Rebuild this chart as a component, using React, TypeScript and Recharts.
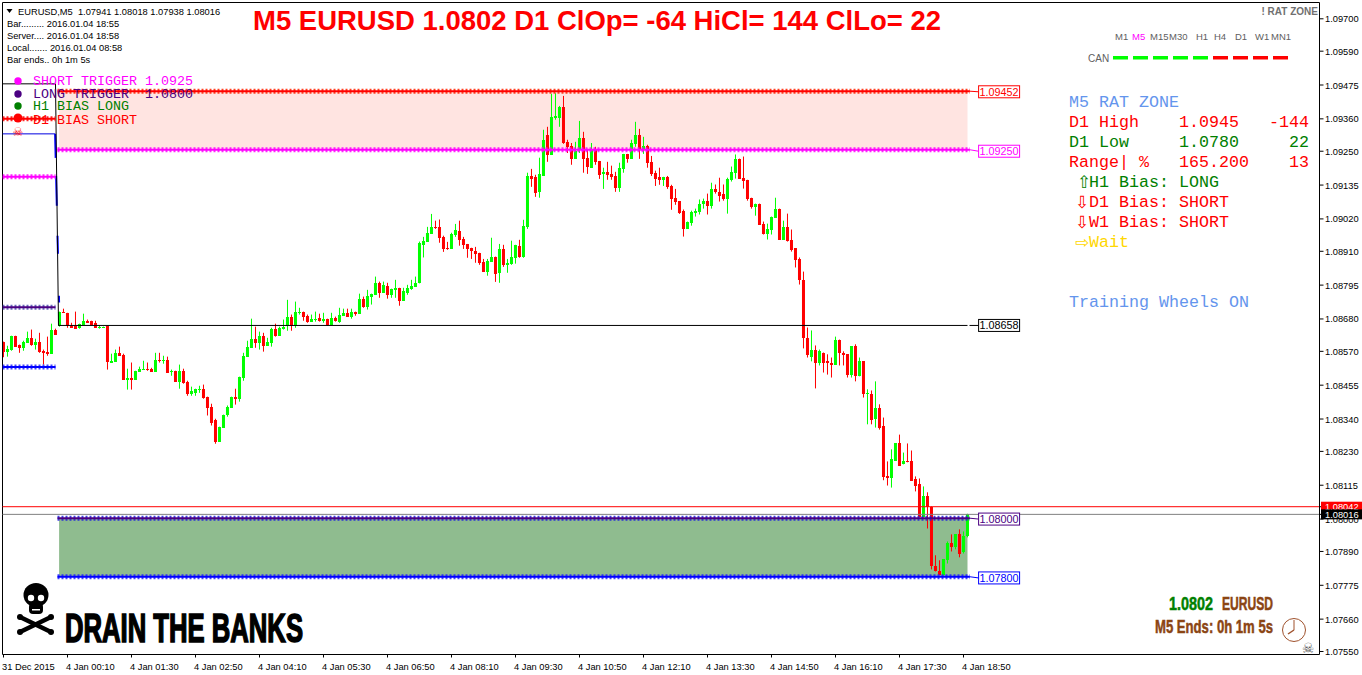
import React from "react";
import { Bar, ComposedChart, Line, ReferenceArea, ReferenceDot, ReferenceLine, XAxis, YAxis } from "recharts";

// OHLC of the EURUSD M5 bars, in points (1/100000)
const opens = [
108603,108569,108576,108623,108593,108582,108599,108616,108593,108603,
108572,108569,108562,108644,108657,108705,108701,108657,108657,108650,
108661,108674,108674,108667,108650,108650,108657,108532,108535,108565,
108559,108474,108481,108474,108501,108508,108511,108511,108501,108542,
108538,108542,108501,108504,108467,108504,108467,108426,108429,108440,
108443,108416,108382,108335,108263,108311,108352,108379,108416,108409,
108481,108552,108582,108613,108599,108623,108589,108599,108647,108623,
108647,108657,108688,108657,108701,108705,108691,108671,108678,108684,
108674,108681,108661,108684,108671,108691,108701,108688,108705,108698,
108749,108722,108756,108762,108803,108769,108793,108762,108779,108786,
108742,108769,108783,108790,108801,108932,108942,108969,108993,108993,
108959,108922,108918,108966,108980,108952,108935,108922,108912,108905,
108874,108840,108874,108892,108837,108918,108864,108868,108888,108929,
108892,108993,109166,109163,109112,109166,109306,109238,109363,109363,
109401,109282,109268,109224,109255,109295,109228,109194,109258,109217,
109173,109180,109173,109166,109126,109190,109241,109224,109275,109306,
109258,109268,109214,109177,109163,109153,109163,109132,109092,109081,
109048,108987,109007,109041,109045,109069,109082,109065,109120,109113,
109103,109086,109153,109177,109225,109160,109153,109092,109059,109072,
109004,108970,108984,109024,109055,108950,108994,108950,108920,108885,
108814,108617,108552,108576,108529,108566,108536,108532,108525,108610,
108566,108560,108488,108587,108485,108536,108424,108424,108339,108376,
108315,108145,108138,108199,108257,108186,108199,108196,108135,108118,
108006,108077,108040,107842,107825,107809,107860,107917,107904,107948,
107887,107941];
const highs = [
108603,108589,108623,108623,108593,108606,108637,108644,108613,108633,
108576,108620,108664,108647,108705,108715,108701,108667,108705,108664,
108698,108678,108674,108674,108657,108654,108657,108562,108576,108586,
108562,108511,108532,108504,108518,108538,108532,108514,108565,108565,
108555,108552,108508,108504,108525,108511,108470,108450,108443,108453,
108457,108416,108392,108341,108314,108355,108386,108416,108443,108484,
108565,108606,108681,108654,108637,108633,108616,108650,108664,108654,
108678,108745,108695,108739,108718,108705,108695,108695,108705,108698,
108701,108681,108701,108688,108718,108715,108715,108715,108705,108766,
108756,108779,108766,108824,108807,108807,108803,108783,108813,108786,
108786,108796,108813,108824,108943,108959,108993,109037,109014,109018,
108963,108942,108973,109003,109014,108959,108935,108922,108925,108905,
108884,108884,108956,108892,108935,108932,108884,108946,108932,108949,
109017,109177,109190,109170,109228,109323,109333,109445,109447,109404,
109438,109289,109278,109282,109353,109316,109258,109278,109265,109217,
109194,109214,109201,109180,109211,109241,109241,109289,109350,109326,
109299,109272,109234,109184,109194,109163,109166,109136,109122,109081,
109052,109011,109048,109055,109086,109089,109106,109143,109137,109160,
109137,109160,109198,109239,109225,109232,109153,109092,109072,109072,
109011,109004,109028,109092,109055,109014,109038,108984,108920,108889,
108841,108651,108641,108590,108576,108566,108560,108549,108620,108610,
108570,108560,108587,108594,108549,108536,108441,108437,108468,108390,
108345,108196,108237,108257,108287,108226,108257,108233,108145,108138,
108111,108091,108043,107877,107860,107863,107924,107948,107948,107965,
107958,108018];
const lows = [
108550,108552,108572,108586,108565,108572,108599,108589,108576,108565,
108525,108555,108562,108627,108654,108701,108650,108650,108647,108647,
108661,108667,108661,108650,108647,108650,108508,108532,108535,108555,
108474,108440,108440,108474,108501,108508,108504,108501,108501,108532,
108528,108498,108487,108467,108443,108460,108419,108419,108419,108429,
108409,108352,108318,108256,108263,108311,108348,108379,108389,108399,
108470,108552,108582,108582,108576,108569,108589,108586,108620,108623,
108644,108640,108640,108650,108695,108674,108667,108671,108671,108671,
108667,108657,108661,108671,108667,108691,108688,108681,108691,108698,
108718,108712,108729,108762,108752,108769,108749,108752,108752,108725,
108742,108762,108779,108790,108801,108889,108942,108969,108986,108939,
108908,108915,108918,108959,108929,108918,108888,108884,108871,108864,
108840,108827,108874,108806,108803,108857,108837,108864,108868,108888,
108888,108986,109129,109095,109092,109166,109214,109238,109357,109333,
109275,109244,109204,109224,109244,109177,109173,109194,109204,109156,
109122,109153,109153,109112,109112,109177,109211,109224,109265,109224,
109241,109194,109166,109132,109136,109132,109122,109051,109068,109037,
108960,108987,108997,109028,109035,109055,109035,109055,109106,109079,
109082,109038,109147,109157,109157,109123,109082,109055,109031,109001,
108967,108950,108967,109024,108950,108950,108943,108909,108855,108797,
108580,108549,108536,108444,108522,108498,108491,108481,108525,108522,
108522,108481,108481,108468,108485,108413,108322,108322,108311,108304,
108132,108114,108107,108199,108182,108186,108193,108131,108094,108006,
108006,107968,107829,107822,107809,107809,107849,107890,107897,107870,
107883,107938];
const closes = [
108569,108579,108623,108586,108582,108603,108616,108593,108603,108569,
108565,108562,108644,108627,108705,108701,108657,108650,108647,108664,
108674,108667,108661,108650,108654,108654,108535,108538,108565,108555,
108474,108481,108474,108504,108511,108511,108508,108501,108542,108538,
108542,108498,108504,108467,108504,108464,108426,108436,108443,108443,
108413,108379,108328,108263,108314,108355,108382,108416,108409,108484,
108555,108586,108613,108599,108623,108589,108603,108647,108623,108650,
108654,108688,108657,108705,108705,108688,108671,108681,108681,108674,
108681,108661,108684,108674,108695,108701,108688,108705,108698,108749,
108722,108759,108766,108803,108769,108796,108762,108783,108786,108742,
108776,108786,108793,108803,108937,108946,108973,108993,108990,108956,
108918,108918,108969,108983,108949,108932,108918,108912,108901,108871,
108840,108878,108892,108833,108918,108864,108871,108892,108932,108892,
108997,109166,109156,109109,109173,109289,109238,109367,109370,109401,
109278,109265,109224,109251,109295,109224,109197,109258,109214,109170,
109180,109170,109163,109126,109194,109241,109224,109278,109306,109258,
109268,109211,109173,109156,109153,109163,109129,109088,109078,109041,
108987,109011,109045,109048,109072,109082,109065,109120,109110,109099,
109086,109157,109181,109222,109157,109150,109089,109059,109072,109001,
108970,108987,109028,109055,108950,108994,108946,108916,108882,108811,
108614,108556,108576,108529,108570,108532,108529,108522,108610,108563,
108556,108491,108587,108485,108536,108424,108427,108335,108376,108311,
108142,108138,108203,108257,108182,108199,108193,108131,108114,108006,
108077,108040,107839,107822,107809,107863,107917,107904,107948,107883,
107941,108016];

const yTicks = [1.097,1.0959,1.09475,1.0936,1.0925,1.09135,1.0902,1.0891,1.08795,1.0868,1.0857,1.08455,1.0834,1.0823,1.08115,1.08,1.0789,1.07775,1.0766,1.0755];
const askPrice = 1.08042;
const bidPrice = 1.08016;
const xTickBars = [0,16,32,48,64,80,96,112,128,144,160,176,192,208,224,240];
const xTickLabels = ["31 Dec 2015","4 Jan 00:10","4 Jan 01:30","4 Jan 02:50","4 Jan 04:10","4 Jan 05:30","4 Jan 06:50","4 Jan 08:10","4 Jan 09:30","4 Jan 10:50","4 Jan 12:10","4 Jan 13:30","4 Jan 14:50","4 Jan 16:10","4 Jan 17:30","4 Jan 18:50"];

// Levels
const pivot = 1.08658;
const levelLabels = [1.09452, 1.0925, 1.08, 1.078];
const levelPrices = [1.09454, 1.09255, 1.08003, 1.07804];
const prevLevelPrices = [1.0936, 1.09163, 1.0872, 1.08517];
const blackStepBars = [-0.25, 13, 13.75, 241];
const blackStepPrices = [1.09479, 1.09479, pivot, pivot];
const blueStepBars = [-0.25, 12.9];
const blueStepPrices = [1.09309, 1.09309];
const blueDropBars = [12.9, 13.9];
const blueDropPrices = [1.09309, 1.08736];

const levelOuter = ["#FF2200", "#FF00FF", "#2020E0", "#2222FF"];
const levelCore = ["#FF0000", "#FF00FF", "#4B0082", "#0000FF"];
const prevOuter = ["#FF0000", "#FF00FF", "#5050B0", "#2222FF"];
const prevCore = ["#FF0000", "#FF00FF", "#4B0082", "#0000FF"];
const boxColors = ["#FF0000", "#FF00FF", "#4B0082", "#0000FF"];

const rows = opens.map((o, i) => ({
  x: i,
  open: o / 100000,
  high: highs[i] / 100000,
  low: lows[i] / 100000,
  close: closes[i] / 100000,
  range: [lows[i] / 100000, highs[i] / 100000],
}));

const seg = (xs: number[], ys: number[]) => xs.map((x, i) => ({ x, y: ys[i] }));

const SANS = "'Liberation Sans', Arial, sans-serif";
const MONO = "'Liberation Mono', 'Courier New', monospace";
const NARROW = "'Liberation Sans Narrow', 'Liberation Sans', sans-serif";

const Candle = (props: any) => {
  const { x, y, width, height, payload } = props;
  const { open, high, low, close } = payload;
  const cx = x + width / 2;
  const span = high - low || 1e-9;
  const px = (v: number) => y + ((high - v) / span) * height;
  const up = close >= open;
  const color = up ? "#00FF00" : "#FF0000";
  const top = Math.round(px(Math.max(open, close)));
  const bot = Math.round(px(Math.min(open, close)));
  return (
    <g>
      <rect x={cx - 0.5} y={y} width={1} height={Math.max(height, 1)} fill={color} />
      <rect x={cx - 1.5} y={top} width={3} height={Math.max(bot - top, 1)} fill={color} />
    </g>
  );
};

const XTick = (props: any) => {
  const { x, y, index } = props;
  const tx = index === 0 ? 2 : x - 1.5;
  return (
    <text x={tx} y={y + 10.5} fontFamily={SANS} fontSize={9.3} fill="#000">
      {xTickLabels[index]}
    </text>
  );
};

const YTick = (props: any) => {
  const { x, y, payload } = props;
  const v = payload.value;
  const label = v.toFixed(5);
  if (v === askPrice || v === bidPrice) {
    const isAsk = v === askPrice;
    return (
      <g>
        <rect x={1321} y={y - 5} width={41} height={10} fill={isAsk ? "#FF0000" : "#000"} />
        <text x={1325} y={y + 3.5} fontFamily={SANS} fontSize={9.3} fill="#fff">{label}</text>
      </g>
    );
  }
  return (
    <text x={1325} y={y + 3.5} fontFamily={SANS} fontSize={9.3} fill="#000">{label}</text>
  );
};

const BoxLabel = (props: any) => {
  const { cx, cy, color, label } = props;
  return (
    <g>
      <rect x={cx - 20.5} y={cy - 6} width={41} height={12} fill="#fff" stroke={color} strokeWidth={1} />
      <text x={cx} y={cy + 4} textAnchor="middle" fontFamily={SANS} fontSize={10.8} fill={color}>{label}</text>
    </g>
  );
};

const tfLabels = ["M1","M5","M15","M30","H1","H4","D1","W1","MN1"];
const tfColors = ["#606060","#FF00FF","#606060","#606060","#606060","#606060","#606060","#606060","#606060"];
const tfX = [1115,1132,1150,1169,1196,1214,1235,1255,1271];
const canColors = ["#00FF00","#00FF00","#00FF00","#00FF00","#00FF00","#FF0000","#FF0000","#FF0000","#FF0000"];

const infoLines = ["Bar......... 2016.01.04 18:55","Server.... 2016.01.04 18:58","Local....... 2016.01.04 08:58","Bar ends.. 0h 1m 5s"];
const legendLines = ["SHORT TRIGGER 1.0925","LONG TRIGGER  1.0800","H1 BIAS LONG","D1 BIAS SHORT"];
const legendColors = ["#FF00FF","#4B0082","#008000","#FF0000"];

const Mono = ({ x, y, fill, anchor, children }: any) => (
  <text x={x} y={y} fontFamily={MONO} fontSize={16.67} fill={fill} textAnchor={anchor} style={{ whiteSpace: "pre" }}>{children}</text>
);
const Arrow = ({ x, y, fill, children }: any) => (
  <text x={x} y={y} fontFamily="'DejaVu Sans'" fontSize={17} fill={fill}>{children}</text>
);

const boneEnds = [[20, 617], [51, 632], [51, 617], [20, 632]];

export default function App() {
  return (
    <div style={{ position: "absolute", left: 0, top: 0, width: 1362, height: 675, background: "#fff" }}>
      <ComposedChart
        width={1362}
        height={675}
        data={rows}
        barSize={3}
        margin={{ top: 2.5, right: 0, bottom: 0, left: 2.5 }}
      >
        <XAxis
          dataKey="x"
          type="number"
          domain={[-0.25, 329]}
          allowDataOverflow
          ticks={xTickBars}
          interval={0}
          height={20.5}
          tick={<XTick />}
          tickSize={3}
          tickLine={{ stroke: "#000" }}
          axisLine={{ stroke: "#000" }}
        />
        <YAxis
          type="number"
          orientation="right"
          domain={[1.075398, 1.097554]}
          allowDataOverflow
          ticks={[...yTicks, askPrice, bidPrice]}
          interval={0}
          width={42.5}
          tick={<YTick />}
          tickSize={4}
          tickLine={{ stroke: "#000" }}
          axisLine={{ stroke: "#000" }}
        />
        <ReferenceArea x1={13.9} x2={241} y1={levelPrices[1]} y2={levelPrices[0]} fill="#FFE4E1" fillOpacity={1} stroke="none" />
        <ReferenceArea x1={13.9} x2={241} y1={levelPrices[3]} y2={levelPrices[2]} fill="#8FBC8F" fillOpacity={1} stroke="none" />
        <ReferenceLine x={-0.25} stroke="#000" />
        <ReferenceLine y={1.097554} stroke="#000" />
        <ReferenceLine y={askPrice} stroke="#FF0000" />
        <ReferenceLine y={bidPrice} stroke="#808080" />

        <Line data={seg(blueStepBars, blueStepPrices)} dataKey="y" stroke="#0000E0" strokeWidth={1} dot={false} isAnimationActive={false} legendType="none" />
        <Line data={seg(blueDropBars, blueDropPrices)} dataKey="y" stroke="#0000FF" strokeWidth={2} strokeDasharray="24 18 30 30 18 42 8" dot={false} isAnimationActive={false} legendType="none" />

        <Bar dataKey="range" shape={<Candle />} isAnimationActive={false} legendType="none" />

        <Line data={seg(blackStepBars, blackStepPrices)} dataKey="y" stroke="#000" strokeWidth={1} dot={false} isAnimationActive={false} legendType="none" />
        <Line data={seg([241.5, 243.75], [pivot, pivot])} dataKey="y" stroke="#000" strokeWidth={1} dot={false} isAnimationActive={false} legendType="none" />

        {prevLevelPrices.map((p, i) => (
          <Line key={`po${i}`} data={seg([-0.25, 13], [p, p])} dataKey="y" stroke={prevOuter[i]} strokeWidth={5} strokeDasharray="2 2" strokeOpacity={0.85} dot={false} isAnimationActive={false} legendType="none" />
        ))}
        {prevLevelPrices.map((p, i) => (
          <Line key={`pc${i}`} data={seg([-0.25, 13], [p, p])} dataKey="y" stroke={prevCore[i]} strokeWidth={2} dot={false} isAnimationActive={false} legendType="none" />
        ))}
        {levelPrices.map((p, i) => (
          <Line key={`lo${i}`} data={seg([13.5, 241.6], [p, p])} dataKey="y" stroke={levelOuter[i]} strokeWidth={5} strokeDasharray="2 2" strokeOpacity={0.85} dot={false} isAnimationActive={false} legendType="none" />
        ))}
        {levelPrices.map((p, i) => (
          <Line key={`lc${i}`} data={seg([13.5, 241.6], [p, p])} dataKey="y" stroke={levelCore[i]} strokeWidth={2} dot={false} isAnimationActive={false} legendType="none" />
        ))}
        {levelPrices.map((p, i) => (
          <Line key={`ln${i}`} data={seg([241.6, 243.75], [p, levelLabels[i]])} dataKey="y" stroke={boxColors[i]} strokeWidth={1} dot={false} isAnimationActive={false} legendType="none" />
        ))}
        {levelLabels.map((p, i) => (
          <ReferenceDot key={`bx${i}`} x={248.9} y={p} shape={<BoxLabel color={boxColors[i]} label={p.toFixed(5)} />} />
        ))}
        <ReferenceDot x={248.9} y={pivot} shape={<BoxLabel color="#000" label={pivot.toFixed(5)} />} />
      </ComposedChart>

      <svg width={1362} height={675} style={{ position: "absolute", left: 0, top: 0, pointerEvents: "none" }}>
        {/* header text */}
        <path d="M6.5 9 L12.5 9 L9.5 13 Z" fill="#000" />
        <text x={18} y={14.5} fontFamily={SANS} fontSize={9.3} fill="#000" style={{ whiteSpace: "pre" }}>EURUSD,M5  1.07941 1.08018 1.07938 1.08016</text>
        {infoLines.map((t, i) => (
          <text key={t} x={7} y={27 + i * 12} fontFamily={SANS} fontSize={9.3} fill="#000">{t}</text>
        ))}
        <text x={253} y={30} fontFamily={SANS} fontWeight="bold" fontSize={28} fill="#FF0000" textLength={688} lengthAdjust="spacingAndGlyphs">M5 EURUSD 1.0802 D1 ClOp= -64 HiCl= 144 ClLo= 22</text>

        {/* legend */}
        {legendLines.map((t, i) => (
          <g key={t}>
            <circle cx={18} cy={[81, 94, 106, 118][i]} r={i === 3 ? 4.5 : 3.7} fill={legendColors[i]} />
            <text x={33} y={[85, 98, 110, 124][i]} fontFamily={MONO} fontSize={13.33} fill={legendColors[i]} style={{ whiteSpace: "pre" }}>{t}</text>
          </g>
        ))}
        <text x={18} y={136} textAnchor="middle" fontFamily="'DejaVu Sans'" fontSize={12} fill="#FF0000">☠</text>

        {/* right panel */}
        <text x={1318} y={15} textAnchor="end" fontFamily={SANS} fontWeight="bold" fontSize={10} fill="#707070">! RAT ZONE</text>
        {tfLabels.map((t, i) => (
          <text key={t} x={tfX[i]} y={40} fontFamily={SANS} fontSize={9.5} fill={tfColors[i]}>{t}</text>
        ))}
        <text x={1088} y={62} fontFamily={SANS} fontSize={10} fill="#606060">CAN</text>
        {canColors.map((c, i) => (
          <rect key={i} x={1113 + i * 20} y={56} width={15} height={3.5} fill={c} />
        ))}
        <Mono x={1069} y={107} fill="#6495ED">M5 RAT ZONE</Mono>
        <Mono x={1069} y={127} fill="#FF0000">D1 High</Mono>
        <Mono x={1179} y={127} fill="#FF0000">1.0945</Mono>
        <Mono x={1309} y={127} fill="#FF0000" anchor="end">-144</Mono>
        <Mono x={1069} y={147} fill="#008000">D1 Low</Mono>
        <Mono x={1179} y={147} fill="#008000">1.0780</Mono>
        <Mono x={1309} y={147} fill="#008000" anchor="end">22</Mono>
        <Mono x={1069} y={167} fill="#FF0000">Range| %</Mono>
        <Mono x={1179} y={167} fill="#FF0000">165.200</Mono>
        <Mono x={1309} y={167} fill="#FF0000" anchor="end">13</Mono>
        <Arrow x={1077} y={188} fill="#008000">⇧</Arrow>
        <Mono x={1089} y={187} fill="#008000">H1 Bias: LONG</Mono>
        <Arrow x={1075} y={208} fill="#FF0000">⇩</Arrow>
        <Mono x={1089} y={207} fill="#FF0000">D1 Bias: SHORT</Mono>
        <Arrow x={1075} y={228} fill="#FF0000">⇩</Arrow>
        <Mono x={1089} y={227} fill="#FF0000">W1 Bias: SHORT</Mono>
        <Arrow x={1075} y={248} fill="#FFD700">⇨</Arrow>
        <Mono x={1089} y={247} fill="#FFD700">Wait</Mono>
        <Mono x={1069} y={307} fill="#6495ED">Training Wheels ON</Mono>

        {/* bottom left brand */}
        <g>
          <line x1={20} y1={617} x2={51} y2={632} stroke="#000" strokeWidth={4.5} strokeLinecap="round" />
          <line x1={51} y1={617} x2={20} y2={632} stroke="#000" strokeWidth={4.5} strokeLinecap="round" />
          {boneEnds.map(([cx, cy], i) => (
            <circle key={i} cx={cx} cy={cy} r={3} fill="#000" />
          ))}
          <ellipse cx={36} cy={595} rx={12.5} ry={12} fill="#000" />
          <rect x={29} y={603} width={14} height={11} rx={4} fill="#000" />
          <circle cx={31} cy={598} r={3.2} fill="#fff" />
          <circle cx={41} cy={598} r={3.2} fill="#fff" />
          <rect x={32} y={609} width={8} height={1.5} fill="#fff" />
        </g>
        <text x={65} y={642} fontFamily={NARROW} fontWeight="bold" fontSize={40} fill="#000" stroke="#000" strokeWidth={1.6} textLength={238} lengthAdjust="spacingAndGlyphs">DRAIN THE BANKS</text>

        {/* bottom right */}
        <text x={1169} y={610} fontFamily={NARROW} fontWeight="bold" fontSize={18} fill="#008000" stroke="#008000" strokeWidth={0.5} textLength={44} lengthAdjust="spacingAndGlyphs">1.0802</text>
        <text x={1222} y={610} fontFamily={NARROW} fontWeight="bold" fontSize={18} fill="#8B4513" stroke="#8B4513" strokeWidth={0.5} textLength={51} lengthAdjust="spacingAndGlyphs">EURUSD</text>
        <text x={1155} y={633} fontFamily={NARROW} fontWeight="bold" fontSize={18} fill="#8B4513" stroke="#8B4513" strokeWidth={0.5} textLength={118} lengthAdjust="spacingAndGlyphs">M5 Ends: 0h 1m 5s</text>
        <circle cx={1294} cy={630} r={11.5} fill="#fff" stroke="#A0522D" strokeWidth={1} />
        <line x1={1294} y1={630} x2={1294} y2={620} stroke="#A0522D" />
        <line x1={1294} y1={630} x2={1288} y2={634} stroke="#A0522D" strokeWidth={1.5} />
        <text x={1308} y={653} textAnchor="middle" fontFamily="'DejaVu Sans'" fontSize={14} fill="#555">☠</text>
      </svg>
    </div>
  );
}
